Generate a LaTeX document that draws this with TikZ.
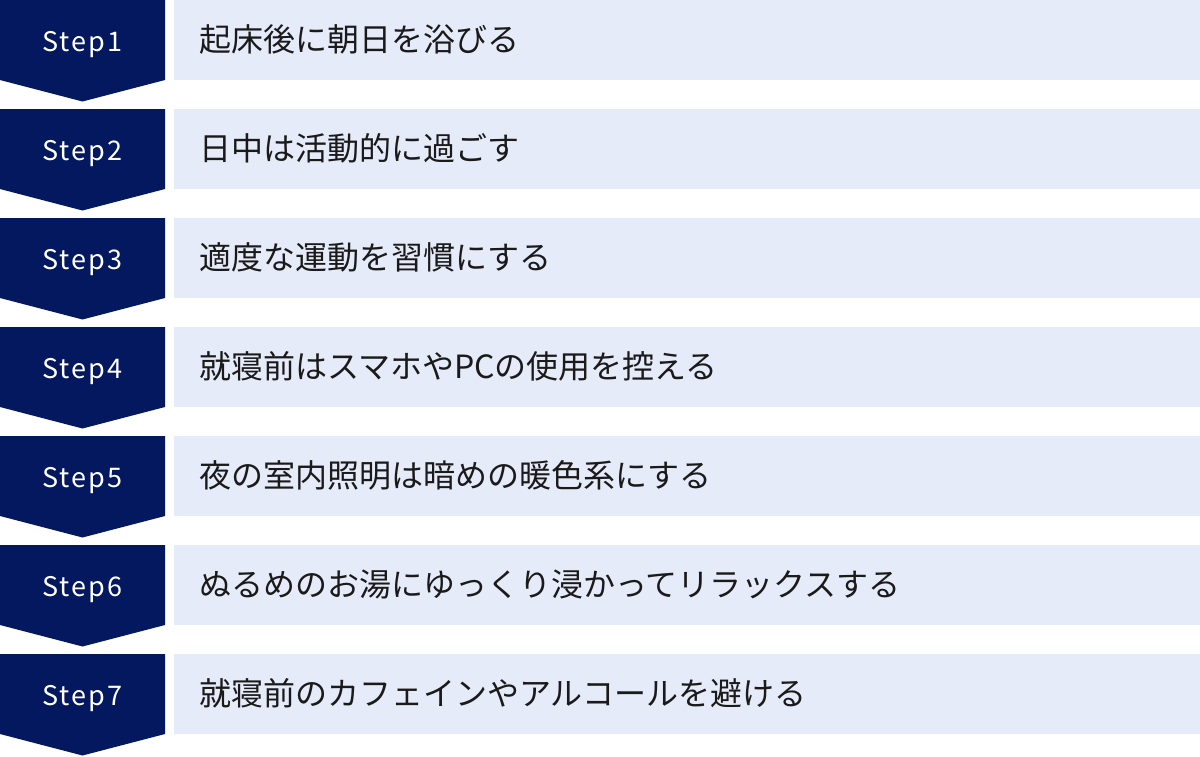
\documentclass[tikz,border=0pt]{standalone}
\usepackage{fontspec}
\newfontfamily\jpfont{Noto Sans CJK JP}
\newfontfamily\stepfont[LetterSpace=8]{Noto Sans CJK JP}
\definecolor{navy}{RGB}{4,24,96}
\definecolor{lightbox}{RGB}{230,235,249}
\definecolor{txt}{RGB}{26,26,26}
\begin{document}
\begin{tikzpicture}[x=1pt,y=-1pt,
  stepshape/.style={fill=navy},
  itembox/.style={fill=lightbox},
  steplabel/.style={text=white,font=\stepfont\fontsize{27}{32}\selectfont,anchor=base,inner sep=0pt},
  itemlabel/.style={text=txt,font=\jpfont\fontsize{32}{38}\selectfont,anchor=base west,inner sep=0pt}]
\useasboundingbox (0,0) rectangle (1200,756);
\fill[white] (0,0) rectangle (1200,756);
\foreach \i/\t in {1/起床後に朝日を浴びる,2/日中は活動的に過ごす,3/適度な運動を習慣にする,4/就寝前はスマホやPCの使用を控える,5/夜の室内照明は暗めの暖色系にする,6/ぬるめのお湯にゆっくり浸かってリラックスする,7/就寝前のカフェインやアルコールを避ける}{
  \pgfmathsetmacro{\top}{109*(\i-1)}
  \fill[stepshape] (0,\top) -- (165,\top) -- (165,\top+80) -- (82.5,\top+101.5) -- (0,\top+80) -- cycle;
  \fill[itembox] (174,\top) rectangle (1200,\top+80);
  \node[steplabel] (s\i) at (82.5,\top+51.5) {Step\i};
  \node[itemlabel] (t\i) at (199,\top+51.5) {\t};
}
\end{tikzpicture}
\end{document}
